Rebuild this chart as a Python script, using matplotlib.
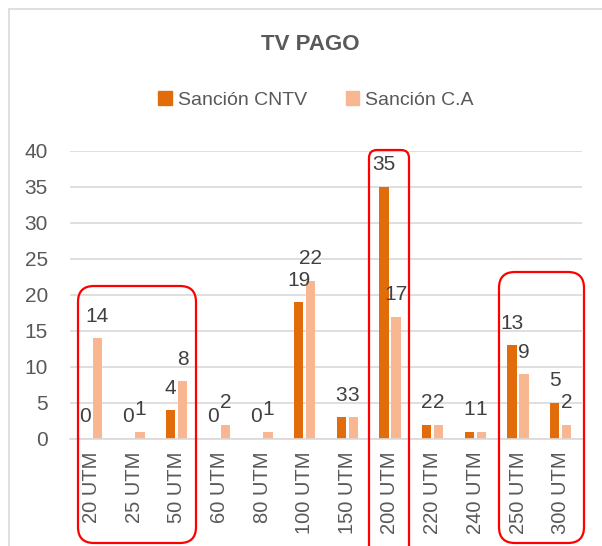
import numpy as np
import matplotlib
matplotlib.use("Agg")
import matplotlib.pyplot as plt
from matplotlib.patches import FancyBboxPatch, Rectangle, Patch

plt.rcParams["font.family"] = ["Liberation Sans Narrow", "Liberation Sans", "DejaVu Sans"]

categories = ["20 UTM", "25 UTM", "50 UTM", "60 UTM", "80 UTM", "100 UTM",
              "150 UTM", "200 UTM", "220 UTM", "240 UTM", "250 UTM", "300 UTM"]
sancion_cntv = [0, 0, 4, 0, 0, 19, 3, 35, 2, 1, 13, 5]
sancion_ca = [14, 1, 8, 2, 1, 22, 3, 17, 2, 1, 9, 2]

DARK = "#E36C0A"
LIGHT = "#F9B791"
TEXT = "#595959"
GRID = "#D9D9D9"

W, H = 602, 546
fig = plt.figure(figsize=(W / 100, H / 100), dpi=100)
ax = fig.add_axes([70 / W, 107 / H, 512 / W, 288 / H])

x = np.arange(len(categories))
bw = 0.22
off = 0.14
b1 = ax.bar(x - off, sancion_cntv, bw, color=DARK, label="Sanción CNTV")
b2 = ax.bar(x + off, sancion_ca, bw, color=LIGHT, label="Sanción C.A")

for bars, vals in ((b1, sancion_cntv), (b2, sancion_ca)):
    for rect, v in zip(bars, vals):
        ax.annotate(str(v), (rect.get_x() + rect.get_width() / 2, v),
                    xytext=(0, 12), textcoords="offset points",
                    ha="center", va="baseline", fontsize=15, color="#404040")

ax.set_xlim(-0.5, len(categories) - 0.5)
ax.set_ylim(0, 40)
ax.set_yticks(range(0, 41, 5))
ax.yaxis.grid(True, color=GRID, linewidth=1.2)
ax.set_axisbelow(True)
for s in ["top", "right", "left"]:
    ax.spines[s].set_visible(False)
ax.spines["bottom"].set_color(GRID)
ax.spines["bottom"].set_linewidth(1.2)
ax.set_xticks(x)
ax.set_xticklabels(categories, rotation=90)
ax.tick_params(axis="y", length=0, pad=16, labelsize=15, labelcolor=TEXT)
ax.tick_params(axis="x", length=0, pad=9, labelsize=14.5, labelcolor=TEXT)

fig.text(310 / W, 1 - 44 / H, "TV PAGO", ha="center", va="center",
         fontsize=16, fontweight="bold", color=TEXT)

handles = [Patch(color=DARK, label="Sanción CNTV"), Patch(color=LIGHT, label="Sanción C.A")]
fig.legend(handles=handles, loc="center", bbox_to_anchor=(316 / W, 1 - 100 / H),
           ncol=2, frameon=False, fontsize=14, handlelength=0.7, handleheight=0.7,
           handletextpad=0.3, columnspacing=2.0, labelcolor=TEXT)

# chart frame
fig.patches.append(Rectangle((0.09, -0.2), 6.2, 5.57, transform=fig.dpi_scale_trans,
                             fill=False, edgecolor=GRID, linewidth=1.2))

# red highlight boxes (pixel coords: left, top, right, bottom)
boxes = [(78, 286, 196, 543, 0.16), (369, 150, 409, 575, 0.08), (499, 272, 584, 543, 0.16)]
for l, t, r, b, rad in boxes:
    fig.patches.append(FancyBboxPatch((l / 100, (H - b) / 100), (r - l) / 100, (b - t) / 100,
                                      boxstyle=f"round,pad=0,rounding_size={rad}",
                                      transform=fig.dpi_scale_trans, fill=False,
                                      edgecolor="#FF0000", linewidth=1.6))

fig.savefig("out.png", dpi=100)
